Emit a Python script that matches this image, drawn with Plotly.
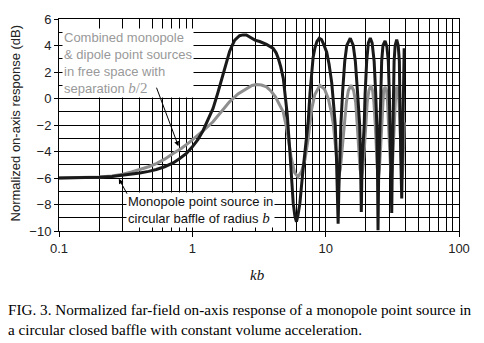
import plotly.graph_objects as go

# Monopole point source in circular baffle of radius b (black)
baffle_kb = [0.10, 0.15, 0.20, 0.25, 0.302, 0.35, 0.404, 0.47, 0.537, 0.62, 0.718, 0.80, 0.903, 1.00,
             1.10, 1.20, 1.30, 1.43, 1.55, 1.70, 1.80, 1.90, 2.00, 2.08, 2.26, 2.40, 2.54, 2.75, 2.95,
             3.20, 3.60, 4.04, 4.25, 4.41, 4.60, 4.81, 5.00, 5.15, 5.40, 5.55, 5.71, 5.88, 6.04, 6.20,
             6.41, 6.70, 6.99, 7.20, 7.40, 7.63, 7.85, 8.05, 8.30, 8.60, 8.95, 9.30, 9.60, 10.18, 10.6,
             11.1, 11.5, 11.8, 12.05, 12.25, 12.4, 12.55, 12.75, 13.0, 13.4, 13.9, 14.4, 15.3, 16.1,
             16.7, 17.3, 17.7, 18.0, 18.25, 18.5, 18.75, 19.0, 19.45, 19.75, 20.3, 20.9, 21.6, 22.3,
             23.1, 23.7, 24.2, 24.45, 24.7, 24.95, 25.3, 25.6, 25.9, 26.3, 26.9, 27.9, 28.8, 29.5,
             30.0, 30.3, 30.7, 31.0, 31.3, 31.55, 32.0, 32.3, 32.6, 33.2, 34.1, 35.0, 35.7, 36.0,
             36.2, 36.6, 37.2, 37.6, 38.2, 38.5, 38.8]
baffle_db = [-6.00, -5.99, -5.95, -5.88, -5.79, -5.72, -5.62, -5.50, -5.36, -5.15, -4.86, -4.55, -4.15, -3.65,
             -3.10, -2.45, -1.70, -0.75, 0.40, 1.77, 2.75, 3.53, 4.05, 4.41, 4.74, 4.80, 4.79, 4.60, 4.41,
             4.30, 4.08, 3.78, 3.45, 3.03, 2.40, 1.52, 0.20, -1.20, -4.15, -6.00, -7.90, -8.90, -9.30, -8.80,
             -7.90, -5.80, -4.15, -2.90, -1.70, 0.40, 2.20, 3.10, 3.80, 4.30, 4.55, 4.45, 4.16, 3.50, 2.60,
             1.20, -0.60, -2.00, -4.50, -7.00, -9.45, -7.00, -4.50, -2.00, 0.50, 2.80, 4.00, 4.55, 4.00,
             2.80, 0.60, -0.90, -2.00, -4.50, -8.56, -5.00, -4.00, -2.00, 0.30, 2.80, 4.20, 4.56, 4.20,
             2.80, 0.50, -2.00, -5.00, -9.95, -6.00, -3.00, -1.50, 0.30, 2.80, 4.00, 4.35, 3.90, 2.80,
             0.50, -2.00, -4.50, -6.50, -8.64, -5.50, -2.00, 0.50, 2.80, 4.00, 4.44, 4.00, 2.80, 0.20,
             -2.00, -4.50, -7.55, -5.00, -2.00, 0.50, 3.80]

# Combined monopole & dipole point sources in free space, separation b/2 (grey)
combo_kb = [0.10, 0.15, 0.20, 0.25, 0.30, 0.35, 0.404, 0.47, 0.537, 0.62, 0.718, 0.83, 0.96, 1.10,
            1.25, 1.43, 1.65, 1.90, 2.20, 2.54, 2.80, 3.03, 3.30, 3.60, 3.90, 4.20, 4.50, 4.80, 5.10,
            5.50, 5.85, 6.20, 6.60, 7.00, 7.40, 7.85, 8.30, 9.05, 9.80, 10.46, 11.0, 11.4, 11.9, 12.2,
            12.5, 12.9, 13.3, 13.8, 14.3, 14.8, 15.5, 16.2, 16.8, 17.2, 17.7, 18.1, 18.6, 19.0, 19.5,
            20.0, 20.5, 21.1, 21.8, 22.5, 23.0, 23.5, 24.0, 24.4, 24.9, 25.3, 25.8, 26.3, 26.8, 27.2,
            27.9, 28.6, 29.1, 29.7, 30.2, 30.7, 31.2, 31.6, 32.1, 32.6, 33.1, 33.6, 34.3, 35.0, 35.5,
            36.0, 36.5, 37.0, 37.5, 37.9, 38.4, 38.9]
combo_db = [-6.00, -5.98, -5.93, -5.85, -5.72, -5.55, -5.36, -5.15, -4.91, -4.58, -4.15, -3.75, -3.27, -2.80,
            -2.30, -1.76, -1.00, -0.25, 0.35, 0.76, 0.98, 1.06, 1.02, 0.88, 0.55, 0.13, -0.40, -1.00, -2.26,
            -4.40, -5.60, -5.92, -5.50, -4.60, -3.00, -0.80, 0.30, 1.00, 0.70, 0.00, -1.00, -1.90, -3.80, -5.20,
            -5.90, -5.30, -3.80, -1.80, -0.30, 0.60, 1.00, 0.60, -0.30, -1.80, -3.80, -5.30, -5.95, -5.30, -3.80,
            -1.80, -0.30, 0.60, 1.00, 0.60, -0.30, -1.80, -3.80, -5.30, -5.95, -5.30, -3.80, -1.80, -0.30, 0.60,
            0.88, 0.60, -0.30, -1.80, -3.80, -5.30, -5.95, -5.30, -3.80, -1.80, -0.30, 0.60, 0.90, 0.60, -0.30,
            -1.80, -3.80, -5.30, -5.95, -5.30, -3.80, -1.80]

x_tick_vals = [0.1, 1, 10, 100]
x_tick_text = ["0.1", "1", "10", "100"]
x_minor_vals = [0.2, 0.3, 0.4, 0.5, 0.6, 0.7, 0.8, 0.9,
                2, 3, 4, 5, 6, 7, 8, 9,
                20, 30, 40, 50, 60, 70, 80, 90]

fig = go.Figure()
fig.add_trace(go.Scatter(x=combo_kb, y=combo_db, mode="lines",
                         line=dict(color="#8e8e8e", width=3), showlegend=False))
fig.add_trace(go.Scatter(x=baffle_kb, y=baffle_db, mode="lines",
                         line=dict(color="#1a1a1a", width=3), showlegend=False))

axis_font = dict(family="Liberation Sans, Arial, sans-serif", size=13, color="#222222")

fig.update_layout(
    width=484, height=343,
    margin=dict(l=59, r=25, t=19, b=112),
    paper_bgcolor="white", plot_bgcolor="white",
    font=axis_font,
    xaxis=dict(type="log", range=[-1, 2], tickvals=x_tick_vals, ticktext=x_tick_text,
               showgrid=True, gridcolor="black", gridwidth=1,
               showline=True, linecolor="black", linewidth=1, mirror=True,
               ticks="outside", ticklen=5, tickcolor="black", tickfont=axis_font,
               zeroline=False,
               minor=dict(tickmode="array", tickvals=x_minor_vals, showgrid=True,
                          gridcolor="black", gridwidth=1, ticks="")),
    yaxis=dict(range=[-10, 6], tick0=-10, dtick=2,
               showgrid=True, gridcolor="black", gridwidth=1,
               showline=True, linecolor="black", linewidth=1, mirror=True,
               ticks="outside", ticklen=4, tickcolor="black", tickfont=axis_font,
               zeroline=False,
               minor=dict(dtick=1, showgrid=True, gridcolor="black", gridwidth=1, ticks="")),
)

serif = "Liberation Serif, Times New Roman, serif"
ann = [
    dict(text="Combined monopole<br>&amp; dipole point sources<br>in free space with<br>separation "
              "<span style='font-family:Liberation Serif;font-size:15px'><i>b</i>/2</span>",
         xref="paper", yref="paper", x=0.008, y=0.792, xanchor="left", yanchor="middle",
         align="left", showarrow=False, bgcolor="white", borderpad=1,
         font=dict(family="Liberation Sans, Arial, sans-serif", size=13, color="#999999")),
    dict(text="Monopole point source in<br>circular baffle of radius "
              "<span style='font-family:Liberation Serif;font-size:15px'><i>b</i></span>",
         xref="paper", yref="paper", x=0.168, y=0.098, xanchor="left", yanchor="middle",
         align="left", showarrow=False, bgcolor="white", borderpad=1,
         font=dict(family="Liberation Sans, Arial, sans-serif", size=13, color="#111111")),
    dict(text="", xref="paper", yref="paper", x=0.2986, y=0.400, ax=-22.5, ay=-60,
         showarrow=True, arrowhead=2, arrowsize=1, arrowwidth=1, arrowcolor="black", standoff=0),
    dict(text="", xref="paper", yref="paper", x=0.1496, y=0.2466, ax=9, ay=16.5,
         showarrow=True, arrowhead=2, arrowsize=1, arrowwidth=1, arrowcolor="black", standoff=0),
    dict(text="Normalized on-axis response (dB)", xref="paper", yref="paper",
         x=-0.108, y=0.511, xanchor="center", yanchor="middle", textangle=-90, showarrow=False,
         font=dict(family="Liberation Sans, Arial, sans-serif", size=13, color="#222222")),
    dict(text="<i>kb</i>", xref="paper", yref="paper", x=0.497, y=-0.209,
         xanchor="center", yanchor="middle", showarrow=False,
         font=dict(family=serif, size=15, color="#111111")),
    dict(text="FIG. 3. Normalized far-field on-axis response of a monopole point source in",
         xref="paper", yref="paper", x=-0.1335, y=-0.370, xanchor="left", yanchor="middle",
         showarrow=False, font=dict(family=serif, size=15.2, color="black")),
    dict(text="a circular closed baffle with constant volume acceleration.",
         xref="paper", yref="paper", x=-0.1335, y=-0.464, xanchor="left", yanchor="middle",
         showarrow=False, font=dict(family=serif, size=15.2, color="black")),
]
fig.update_layout(annotations=ann)

fig.write_html("out.html")
